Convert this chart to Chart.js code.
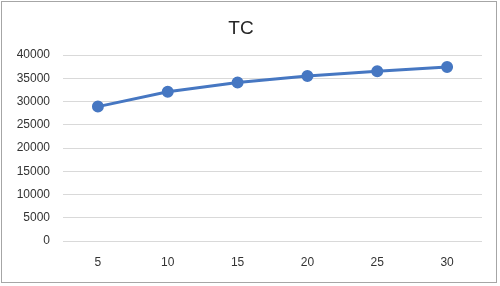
<!DOCTYPE html>
<html>
<head>
<meta charset="utf-8">
<script src="https://cdn.jsdelivr.net/npm/chart.js@4/dist/chart.umd.min.js"></script>
<style>
html,body{margin:0;padding:0;background:#fff;}
#wrap{position:relative;width:500px;height:286px;}
#frame{position:absolute;left:1px;top:1px;width:494px;height:280px;border:1.5px solid #a6a6a6;box-sizing:content-box;pointer-events:none;}
canvas{position:absolute;left:0;top:0;}
</style>
</head>
<body>
<div id="wrap"><canvas id="c" width="500" height="286"></canvas><div id="frame"></div></div>
<script>
const categories = ["5", "10", "15", "20", "25", "30"];
const tcValues = [28900, 32100, 34100, 35500, 36500, 37400];
const chartTitle = "TC";

new Chart(document.getElementById('c'), {
  type: 'line',
  data: {
    labels: categories,
    datasets: [{
      label: chartTitle,
      data: tcValues,
      borderColor: '#4677C2',
      backgroundColor: '#4677C2',
      borderWidth: 3,
      pointRadius: 4.5,
      pointBackgroundColor: '#4677C2',
      pointBorderColor: '#4677C2',
      tension: 0
    }]
  },
  options: {
    responsive: false,
    animation: false,
    devicePixelRatio: 1,
    layout: { padding: { left: 0, right: 18, top: 0, bottom: 2.6 } },
    plugins: {
      legend: { display: false },
      tooltip: { enabled: false },
      title: {
        display: true,
        text: chartTitle,
        color: '#262626',
        font: { family: 'Liberation Sans, Arial, sans-serif', size: 19, weight: 'normal' },
        padding: { top: 17, bottom: 15.2 }
      }
    },
    scales: {
      x: {
        offset: true,
        grid: { display: false, drawTicks: false },
        border: { display: false },
        ticks: { color: '#333333', padding: 14, font: { family: 'Liberation Sans, Arial, sans-serif', size: 12 } }
      },
      y: {
        min: 0, max: 40000,
        grid: { color: '#d9d9d9', drawTicks: false, lineWidth: 1 },
        border: { display: false },
        ticks: { stepSize: 5000, color: '#333333', padding: 13,
          font: { family: 'Liberation Sans, Arial, sans-serif', size: 12 },
          callback: function(v) { return String(v); } },
        afterFit: function(s) { s.width = 63; }
      }
    }
  }
});
</script>
</body>
</html>
